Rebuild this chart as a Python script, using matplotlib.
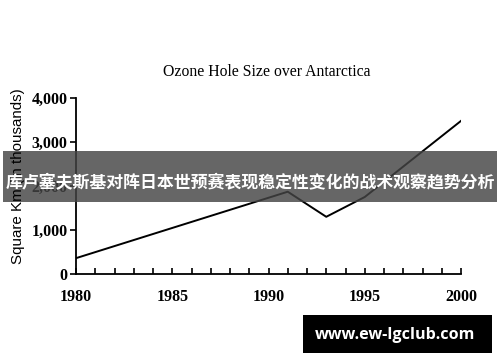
import matplotlib
matplotlib.use("Agg")
import matplotlib.pyplot as plt
from matplotlib.patches import Rectangle

years = [1980, 1991, 1993, 1995, 2000]
size = [360, 1870, 1300, 1750, 3480]

x_ticks = [1980, 1985, 1990, 1995, 2000]
y_ticks = [0, 1000, 2000, 3000, 4000]
y_labels = ['0', '1,000', '2,000', '3,000', '4,000']

banner = '库卢塞夫斯基对阵日本世预赛表现稳定性变化的战术观察趋势分析'
site = 'www.ew-lgclub.com'

W, H = 500, 362
fig = plt.figure(figsize=(W / 100, H / 100), dpi=100)
ax = fig.add_axes([76 / W, 1 - 274 / H, (461 - 76) / W, (274 - 98) / H])

ax.plot(years, size, color='black', lw=1.4)
ax.set_xlim(1980, 2000)
ax.set_ylim(0, 4000)

for s in ['top', 'right']:
    ax.spines[s].set_visible(False)
for s in ['left', 'bottom']:
    ax.spines[s].set_linewidth(1.3)

serif = {'family': 'Liberation Serif', 'weight': 'bold', 'size': 11.5}
ax.set_xticks(x_ticks)
ax.set_xticklabels([str(t) for t in x_ticks], fontdict=serif)
ax.set_xticks(range(1980, 2001), minor=True)
ax.set_yticks(y_ticks)
ax.set_yticklabels(y_labels, fontdict=serif)
ax.tick_params(axis='x', which='both', direction='in', length=4, width=1.2, pad=11)
ax.tick_params(axis='y', direction='out', length=4, width=1.2, pad=2)

fig.text(267 / W, 1 - 72 / H, 'Ozone Hole Size over Antarctica', family='Liberation Serif',
         fontsize=11.3, ha='center', va='center')
fig.text(18 / W, 1 - 176 / H, 'Square Km (in thousands)', family='Liberation Sans',
         fontsize=10.9, rotation=90, ha='center', va='center')

# overlay banner and watermark
fig.add_artist(Rectangle((3 / W, 1 - 202 / H), 494 / W, 51 / H, transform=fig.transFigure,
                         facecolor='#444444', alpha=0.82, edgecolor='none'))
fig.text(250 / W, 1 - 183 / H, banner, family=['Noto Sans CJK SC', 'DejaVu Sans'],
         fontsize=12.2, weight='bold', color='white', ha='center', va='center')

fig.add_artist(Rectangle((303 / W, 1 - 353 / H), 189 / W, 38 / H, transform=fig.transFigure,
                         facecolor='black', edgecolor='none'))
fig.text(395 / W, 1 - 335 / H, site, family='Open Sans', fontsize=11.6, weight='bold',
         color='white', ha='center', va='center')

fig.savefig('out.png', dpi=100)
